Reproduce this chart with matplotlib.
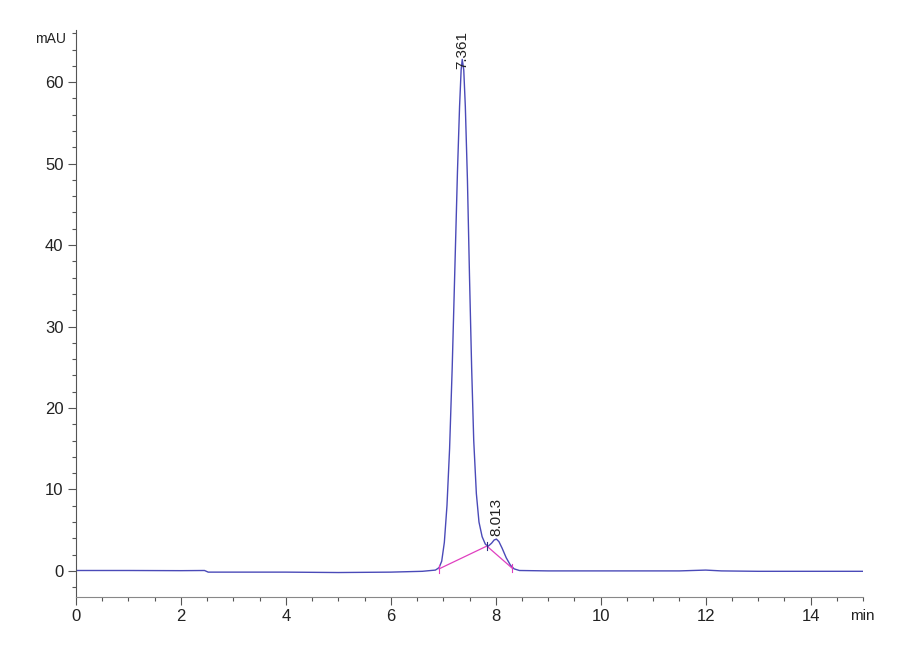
import matplotlib
matplotlib.use("Agg")
import matplotlib.pyplot as plt
from matplotlib.ticker import MultipleLocator

# chromatogram trace (min, mAU)
time_min = [0, 1, 2, 2.45, 2.52, 4, 5, 6, 6.6, 6.85, 6.92, 6.97, 7.02, 7.07,
            7.12, 7.17, 7.22, 7.27, 7.31, 7.34, 7.361, 7.39, 7.42, 7.46, 7.50,
            7.54, 7.58, 7.63, 7.68, 7.74, 7.80, 7.85, 7.92, 7.97, 8.013, 8.06,
            8.12, 8.20, 8.28, 8.35, 8.45, 9, 10, 11.5, 12, 12.3, 13, 14, 15]
signal = [0.05, 0.05, 0.03, 0.05, -0.15, -0.15, -0.2, -0.15, -0.05, 0.1, 0.4,
          1.2, 3.5, 8, 15, 25, 37, 49, 57, 61.5, 62.8, 61.5, 57, 48, 36, 25, 16,
          9.5, 6, 4.2, 3.3, 3.0, 3.4, 3.8, 3.9, 3.6, 2.8, 1.6, 0.7, 0.25, 0.05,
          0, 0, 0, 0.1, 0.0, -0.05, -0.05, -0.05]

# integration baseline
base_t = [6.92, 7.83, 8.31]
base_v = [0.25, 3.05, 0.35]

peak_rt = [7.361, 8.013]
peak_lbl_y = [61.6, 4.3]
peak_lbl = ["7.361", "8.013"]

plt.rcParams['font.family'] = ['Liberation Sans Narrow', 'Liberation Sans', 'DejaVu Sans']

fig = plt.figure(figsize=(9, 6.6), dpi=100)
ax = fig.add_axes([0.0844, 0.0955, 0.8746, 0.859])

ax.plot(time_min, signal, color='#4a4ab8', lw=1.0)
ax.plot(base_t, base_v, color='#e040c0', lw=0.9)
ax.plot([base_t[0], base_t[0]], [base_v[0] - 0.5, base_v[0] + 0.5], color='#e040c0', lw=0.8)
ax.plot([base_t[2], base_t[2]], [base_v[2] - 0.5, base_v[2] + 0.5], color='#e040c0', lw=0.8)
ax.plot([base_t[1], base_t[1]], [base_v[1] - 0.5, base_v[1] + 0.5], color='#303080', lw=0.8)

for rt, y, lbl in zip(peak_rt, peak_lbl_y, peak_lbl):
    ax.text(rt, y, lbl, rotation=90, ha='center', va='bottom',
            fontsize=11, color='#222222', clip_on=False)

ax.set_xlim(0, 15)
ax.set_ylim(-3.2, 66.4)
ax.xaxis.set_major_locator(MultipleLocator(2))
ax.xaxis.set_minor_locator(MultipleLocator(0.5))
ax.yaxis.set_major_locator(MultipleLocator(10))
ax.yaxis.set_minor_locator(MultipleLocator(2))
ax.set_xticks([0, 2, 4, 6, 8, 10, 12, 14])

ax.spines['top'].set_visible(False)
ax.spines['right'].set_visible(False)
ax.spines['left'].set_color('#555555')
ax.spines['bottom'].set_color('#888888')
ax.tick_params(which='major', length=6, width=0.8, color='#555555',
               labelsize=12, labelcolor='#222222', pad=3)
ax.tick_params(which='minor', length=3, width=0.8, color='#555555')

# unit labels
ax.text(14.75, -4.7, "min", ha='left', va='top', fontsize=11,
        color='#222222', clip_on=False)
ax.text(-0.19, 65.3, "mAU", ha='right', va='center', fontsize=10, color='#222222')

fig.savefig("out.png", dpi=100, facecolor='white')
